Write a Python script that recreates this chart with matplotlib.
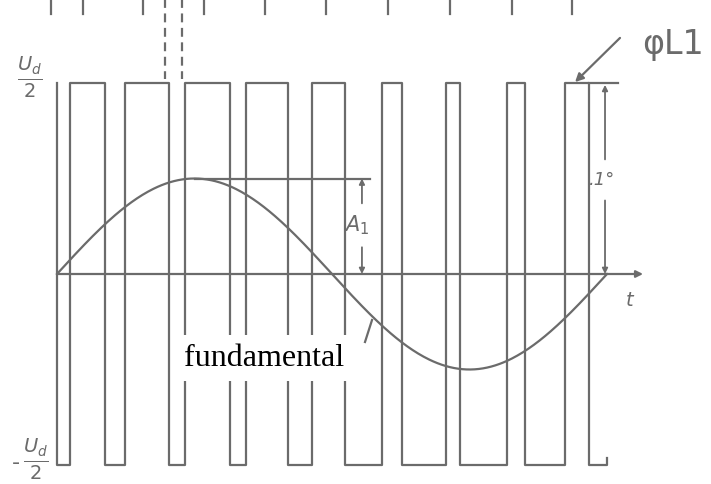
import numpy as np
import matplotlib
matplotlib.use("Agg")
import matplotlib.pyplot as plt

# Switching instants of the PWM phase voltage (degrees of the fundamental period)
switch_angles = [8.2, 31.4, 44.8, 73.0, 83.8, 113.2, 124.0, 150.9, 167.2,
                 188.5, 212.4, 226.1, 254.3, 264.1, 294.5, 306.3, 332.5, 348.5]
period_end = 360.0
dc_half = 1.0          # +Ud/2 normalised
fund_amp = 0.5         # amplitude A1 of the fundamental
carrier_ticks = [-3.9, 17.0, 56.3, 96.2, 136.1, 176.0, 216.6, 257.2, 297.8, 337.1]
dashed_marks = [70.7, 81.8]

ink = "#6b6b6b"
lw = 1.6

fig = plt.figure(figsize=(7.11, 4.84), dpi=100)
ax = fig.add_axes([0, 0, 1, 1])
ax.axis("off")
K = 360.0 / 550.0
ax.set_xlim(-57 * K, (711 - 57) * K)
ax.set_ylim((274 - 484) / 191.0, 274 / 191.0)

# PWM waveform: starts low, toggles at each switching angle
edges = [0.0] + switch_angles + [period_end]
levels = [-dc_half if i % 2 == 0 else dc_half for i in range(len(edges) - 1)]
xs, ys = [0.0], [dc_half]
for i, lev in enumerate(levels):
    xs += [edges[i], edges[i + 1]]
    ys += [lev, lev]
xs.append(period_end)
ys.append(-dc_half + 0.035)
ax.plot(xs, ys, color=ink, lw=lw, solid_joinstyle="round")

# time axis with arrow
ax.annotate("", xy=(383.6, 0), xytext=(0, 0),
            arrowprops=dict(arrowstyle="-|>", color=ink, lw=lw,
                            mutation_scale=10, shrinkA=0, shrinkB=0))
ax.text(375, -0.14, "t", color=ink, fontsize=14, style="italic",
        ha="center", va="center")

# fundamental component
t = np.linspace(0, period_end, 400)
ax.plot(t, fund_amp * np.sin(np.radians(t)), color=ink, lw=lw)
ax.plot([201.6, 206.2], [-0.356, -0.241], color=ink, lw=lw)
ax.text(135.5, -0.44, "fundamental", fontsize=23, family="Liberation Serif",
        color="black", ha="center", va="center",
        bbox=dict(facecolor="white", edgecolor="none", pad=6))

# amplitude A1 dimension
ax.plot([90, 204.9], [fund_amp, fund_amp], color=ink, lw=lw)
ax.annotate("", xy=(199.6, fund_amp), xytext=(199.6, 0.37),
            arrowprops=dict(arrowstyle="-|>", color=ink, lw=1.3,
                            mutation_scale=8, shrinkA=0, shrinkB=0))
ax.annotate("", xy=(199.6, 0), xytext=(199.6, 0.14),
            arrowprops=dict(arrowstyle="-|>", color=ink, lw=1.3,
                            mutation_scale=8, shrinkA=0, shrinkB=0))
ax.text(196.4, 0.255, r"$A_1$", color=ink, fontsize=15, ha="center", va="center")

# unit dimension Ud/2 = 1
ax.plot([switch_angles[-1], 367.2], [dc_half, dc_half], color=ink, lw=lw)
ax.annotate("", xy=(358.7, dc_half - 0.01), xytext=(358.7, 0.6),
            arrowprops=dict(arrowstyle="-|>", color=ink, lw=1.3,
                            mutation_scale=8, shrinkA=0, shrinkB=0))
ax.annotate("", xy=(358.7, 0), xytext=(358.7, 0.385),
            arrowprops=dict(arrowstyle="-|>", color=ink, lw=1.3,
                            mutation_scale=8, shrinkA=0, shrinkB=0))
ax.text(357.0, 0.49, ".1°", color=ink, fontsize=13, style="italic",
        ha="center", va="center")

# carrier ticks and dashed markers along the top edge
for c in carrier_ticks:
    ax.plot([c, c], [1.45, 1.36], color=ink, lw=lw)
for d in dashed_marks:
    ax.plot([d, d], [1.45, 1.02], color=ink, lw=lw, ls=(0, (4, 2.5)))

# phase-angle label with pointer
ax.annotate("", xy=(339.1, 1.005), xytext=(368.5, 1.236),
            arrowprops=dict(arrowstyle="-|>", color=ink, lw=lw,
                            mutation_scale=12, shrinkA=0, shrinkB=0))
ax.text(383.0, 1.2, "φL1", color=ink, fontsize=24, ha="left", va="center")

# level labels
ax.text(-18.0, 1.03, r"$\frac{U_d}{2}$", color=ink, fontsize=20,
        ha="center", va="center")
ax.text(-27.0, -0.99, "-", color=ink, fontsize=16, ha="center", va="center")
ax.text(-14.0, -0.97, r"$\frac{U_d}{2}$", color=ink, fontsize=20,
        ha="center", va="center")

fig.savefig("out.png", dpi=100)
